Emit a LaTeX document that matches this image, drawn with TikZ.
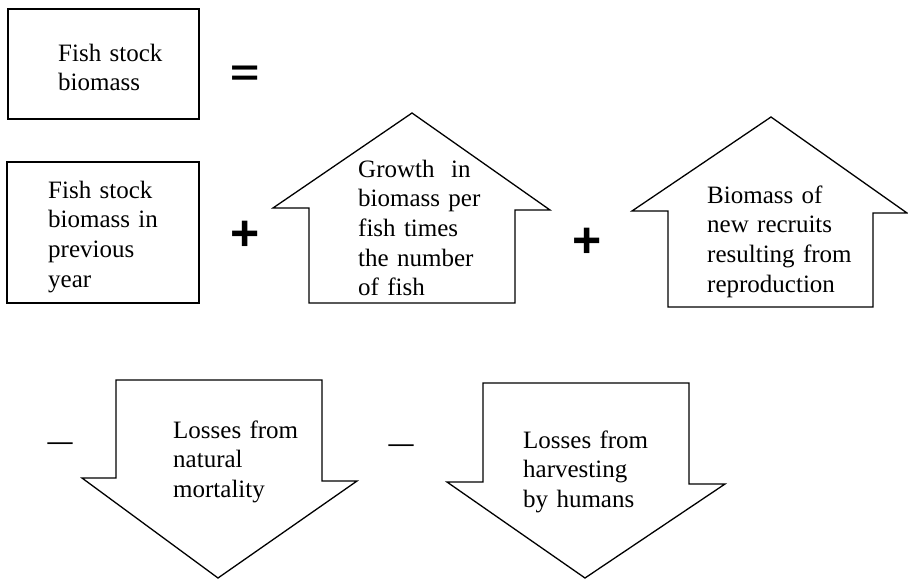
\documentclass[tikz,border=0pt]{standalone}
\usepackage{fontspec}
\setmainfont{Liberation Serif}
\newfontfamily\opfont{Liberation Sans}
\begin{document}
\begin{tikzpicture}[x=1pt,y=-1pt,
  shp/.style={draw=black,line width=1.3pt,line join=miter,fill=white},
  txt/.style={anchor=base west,inner sep=0pt,text width=220pt,align=left,
    font=\fontsize{25}{29.7}\selectfont},
  opsym/.style={inner sep=0pt,font=\opfont\bfseries\fontsize{50}{50}\selectfont},
  minsym/.style={inner sep=0pt,font=\bfseries\fontsize{25}{25}\selectfont}]
\useasboundingbox (0,0) rectangle (908,579);
% boxes
\draw[shp] (8,9) rectangle (199,119);
\node[txt] (t1) at (58,61) {Fish stock\\biomass};
\draw[shp] (7,162) rectangle (199,303);
\node[txt] (t2) at (48,198) {Fish stock\\biomass in\\previous\\year};
% up arrows
\draw[shp] (309,303) -- (309,208) -- (273,208) -- (412,113) -- (550,210) -- (515,210) -- (515,303) -- cycle;
\node[txt] (t3) at (358,177) {Growth~ in\\biomass per\\fish times\\the number\\of fish};
\draw[shp] (668,307) -- (668,211) -- (632,211) -- (771,117) -- (907,213) -- (873,213) -- (873,307) -- cycle;
\node[txt] (t4) at (707,203) {Biomass of\\new recruits\\resulting from\\reproduction};
% down arrows
\draw[shp] (116,380) -- (322,380) -- (322,481) -- (357,481) -- (218,578) -- (82,478) -- (116,478) -- cycle;
\node[txt] (t5) at (173,438) {Losses from\\natural\\mortality};
\draw[shp] (483,383) -- (689,383) -- (689,484) -- (725,484) -- (585,578) -- (447,482) -- (483,482) -- cycle;
\node[txt] (t6) at (523,448) {Losses from\\harvesting\\by humans};
% operators
\node[opsym] (eq) at (245,76) {\scalebox{1}[0.75]{=}};
\node[opsym] (p1) at (245,236) {+};
\node[opsym] (p2) at (587,243) {+};
\node[minsym] (m1) at (60,446) {—};
\node[minsym] (m2) at (401,448) {—};
\end{tikzpicture}
\end{document}
